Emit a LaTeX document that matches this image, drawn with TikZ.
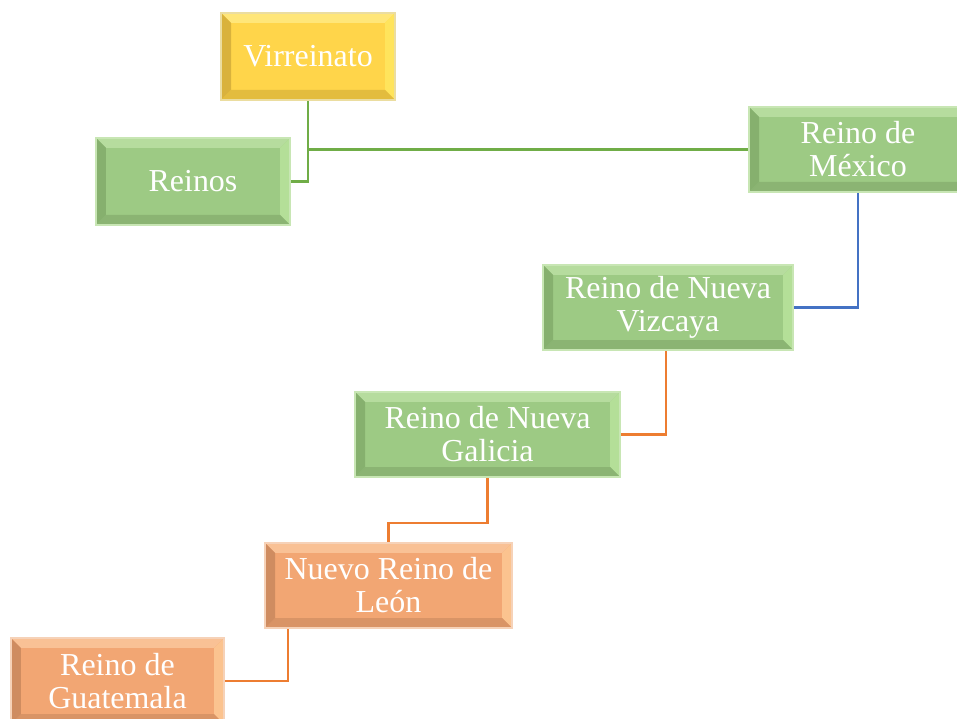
\documentclass[tikz,border=0pt]{standalone}
\usepackage{fontspec}
\setmainfont{Liberation Serif}
\definecolor{Y}{HTML}{FFD54A}\definecolor{YT}{HTML}{FFE679}\definecolor{YR}{HTML}{FFE45C}\definecolor{YL}{HTML}{D9B23C}\definecolor{YB}{HTML}{E3BC3E}\definecolor{YO}{HTML}{EBDDA0}
\definecolor{G}{HTML}{9DCA84}\definecolor{GT}{HTML}{B6DC9E}\definecolor{GR}{HTML}{B4DF98}\definecolor{GL}{HTML}{86B06E}\definecolor{GB}{HTML}{8BB473}\definecolor{GO}{HTML}{C8E6B4}
\definecolor{O}{HTML}{F2A673}\definecolor{OT}{HTML}{F9C195}\definecolor{OR}{HTML}{FBC38F}\definecolor{OL}{HTML}{CF8C60}\definecolor{OB}{HTML}{D99466}\definecolor{OO}{HTML}{F6D2B8}
\definecolor{lineG}{HTML}{70AD47}\definecolor{lineB}{HTML}{4472C4}\definecolor{lineO}{HTML}{ED7D31}
\newcommand\bw{0.2cm}
\tikzset{
  bev/.style={draw=#1O, line width=1.3pt, fill=#1, text=white, align=center,
    inner sep=0pt, font=\fontsize{18.2}{18.8}\selectfont,
    path picture={
      \path (path picture bounding box.north west) coordinate (pnw)
            (path picture bounding box.south east) coordinate (pse)
            (path picture bounding box.north east) coordinate (pne)
            (path picture bounding box.south west) coordinate (psw);
      \fill[#1T] (pnw) -- (pne) -- ([shift={(-\bw,-\bw)}]pne) -- ([shift={(\bw,-\bw)}]pnw) -- cycle;
      \fill[#1R] (pne) -- (pse) -- ([shift={(-\bw,\bw)}]pse) -- ([shift={(-\bw,-\bw)}]pne) -- cycle;
      \fill[#1B] (pse) -- (psw) -- ([shift={(\bw,\bw)}]psw) -- ([shift={(-\bw,\bw)}]pse) -- cycle;
      \fill[#1L] (psw) -- (pnw) -- ([shift={(\bw,-\bw)}]pnw) -- ([shift={(\bw,\bw)}]psw) -- cycle;
    }},
  conn/.style={line width=1.2pt, draw=#1}
}
\newcommand\bevnode[7]{\node[bev=#6, minimum width=#4*0.02cm, minimum height=#5*0.02cm] (#1) at (#2,#3) {#7};}
\begin{document}
\begin{tikzpicture}[x=0.02cm,y=-0.02cm]
\useasboundingbox (0,0) rectangle (957,719);
\clip (0,0) rectangle (957,719);
\bevnode{vir}{308}{56.5}{174}{87}{Y}{Virreinato}
\bevnode{reinos}{193}{181.5}{194}{87}{G}{Reinos}
\bevnode{mex}{858}{149.5}{218}{85}{G}{Reino de\\México}
\bevnode{viz}{668}{307.5}{250}{85}{G}{Reino de Nueva\\Vizcaya}
\bevnode{gal}{487.5}{434.5}{265}{85}{G}{Reino de Nueva\\Galicia}
\bevnode{leon}{388.5}{585.5}{247}{85}{O}{Nuevo Reino de\\León}
\bevnode{guat}{117.5}{681}{213}{86}{O}{Reino de\\Guatemala}
\coordinate (m1) at (0,523);
\draw[conn=lineG] (vir.south) |- (reinos.east);
\draw[conn=lineG] (vir.south |- mex.west) -- (mex.west);
\draw[conn=lineB] (mex.south) |- (viz.east);
\draw[conn=lineO] ([xshift=-2*0.02cm]viz.south) |- (gal.east);
\draw[conn=lineO] (gal.south) |- (leon.north |- m1) -- (leon.north);
\draw[conn=lineO] ([xshift=24*0.02cm]leon.south west) |- (guat.east);
\end{tikzpicture}
\end{document}
